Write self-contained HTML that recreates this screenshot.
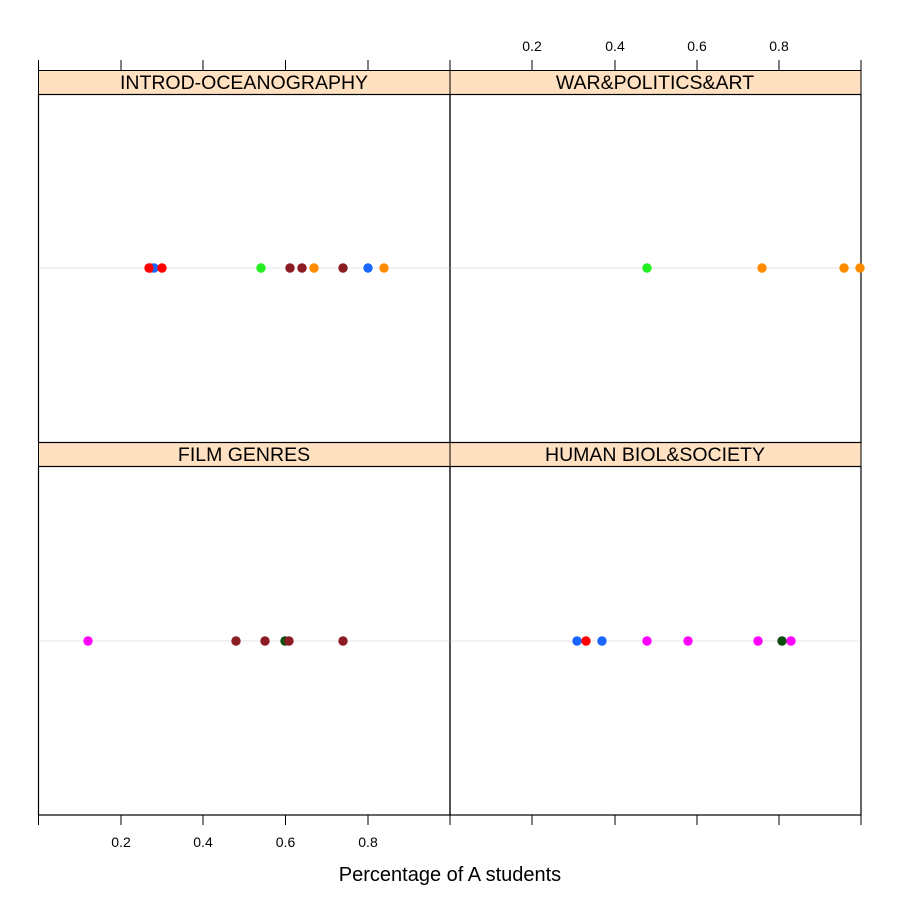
<!DOCTYPE html>
<html><head><style>body{margin:0;background:#fff}</style></head><body>
<svg width="900" height="900" xmlns="http://www.w3.org/2000/svg" font-family="Liberation Sans, Arial, sans-serif">
<rect width="900" height="900" fill="#fff"/>
<rect x="38.5" y="70.5" width="411.5" height="24" fill="#ffe0c1" stroke="#000"/>
<rect x="450" y="70.5" width="411" height="24" fill="#ffe0c1" stroke="#000"/>
<rect x="38.5" y="442.5" width="411.5" height="24" fill="#ffe0c1" stroke="#000"/>
<rect x="450" y="442.5" width="411" height="24" fill="#ffe0c1" stroke="#000"/>
<g font-size="19.5" text-anchor="middle" fill="#000">
<text x="244" y="89">INTROD-OCEANOGRAPHY</text>
<text x="655" y="89">WAR&amp;POLITICS&amp;ART</text>
<text x="244" y="461">FILM GENRES</text>
<text x="655" y="461">HUMAN BIOL&amp;SOCIETY</text>
</g>
<g fill="none" stroke="#000" stroke-width="1.2">
<rect x="38.5" y="94.5" width="411.5" height="348"/>
<rect x="450" y="94.5" width="411" height="348"/>
<rect x="38.5" y="466.5" width="411.5" height="348.5"/>
<rect x="450" y="466.5" width="411" height="348.5"/>
</g>
<g stroke="#e6e6e6" stroke-width="1">
<line x1="39" y1="268" x2="449.5" y2="268"/>
<line x1="450.5" y1="268" x2="860.5" y2="268"/>
<line x1="39" y1="641" x2="449.5" y2="641"/>
<line x1="450.5" y1="641" x2="860.5" y2="641"/>
</g>
<g stroke="#000" stroke-width="1">
<line x1="38.5" y1="60" x2="38.5" y2="70"/><line x1="121" y1="60" x2="121" y2="70"/><line x1="203" y1="60" x2="203" y2="70"/><line x1="285.5" y1="60" x2="285.5" y2="70"/><line x1="368" y1="60" x2="368" y2="70"/><line x1="450" y1="60" x2="450" y2="70"/>
<line x1="532" y1="60" x2="532" y2="70"/><line x1="615" y1="60" x2="615" y2="70"/><line x1="697" y1="60" x2="697" y2="70"/><line x1="779" y1="60" x2="779" y2="70"/><line x1="861" y1="60" x2="861" y2="70"/>
<line x1="38.5" y1="815" x2="38.5" y2="825"/><line x1="121" y1="815" x2="121" y2="825"/><line x1="203" y1="815" x2="203" y2="825"/><line x1="285.5" y1="815" x2="285.5" y2="825"/><line x1="368" y1="815" x2="368" y2="825"/><line x1="450" y1="815" x2="450" y2="825"/>
<line x1="532" y1="815" x2="532" y2="825"/><line x1="615" y1="815" x2="615" y2="825"/><line x1="697" y1="815" x2="697" y2="825"/><line x1="779" y1="815" x2="779" y2="825"/><line x1="861" y1="815" x2="861" y2="825"/>
</g>
<g font-size="14" text-anchor="middle" fill="#000">
<text x="121" y="847">0.2</text><text x="203" y="847">0.4</text><text x="285.5" y="847">0.6</text><text x="368" y="847">0.8</text>
<text x="532" y="51">0.2</text><text x="615" y="51">0.4</text><text x="697" y="51">0.6</text><text x="779" y="51">0.8</text>
</g>
<text x="450" y="881" font-size="20" text-anchor="middle">Percentage of A students</text>
<g>
<circle cx="150" cy="268" r="4.7" fill="#ff0000"/>
<circle cx="154" cy="268" r="4.7" fill="#1a66ff"/>
<circle cx="149" cy="268" r="4.7" fill="#ff0000"/>
<circle cx="162" cy="268" r="4.7" fill="#ff0000"/>
<circle cx="261" cy="268" r="4.7" fill="#22ee22"/>
<circle cx="290" cy="268" r="4.7" fill="#8b1c24"/>
<circle cx="302" cy="268" r="4.7" fill="#8b1c24"/>
<circle cx="314" cy="268" r="4.7" fill="#ff8c00"/>
<circle cx="343" cy="268" r="4.7" fill="#8b1c24"/>
<circle cx="368" cy="268" r="4.7" fill="#1a66ff"/>
<circle cx="384" cy="268" r="4.7" fill="#ff8c00"/>
<circle cx="647" cy="268" r="4.7" fill="#22ee22"/>
<circle cx="762" cy="268" r="4.7" fill="#ff8c00"/>
<circle cx="844" cy="268" r="4.7" fill="#ff8c00"/>
<circle cx="860" cy="268" r="4.7" fill="#ff8c00"/>
<circle cx="88" cy="641" r="4.7" fill="#ff00ff"/>
<circle cx="236" cy="641" r="4.7" fill="#8b1c24"/>
<circle cx="265" cy="641" r="4.7" fill="#8b1c24"/>
<circle cx="285" cy="641" r="4.7" fill="#0d4d0d"/>
<circle cx="289" cy="641" r="4.7" fill="#8b1c24"/>
<circle cx="343" cy="641" r="4.7" fill="#8b1c24"/>
<circle cx="577" cy="641" r="4.7" fill="#1a66ff"/>
<circle cx="586" cy="641" r="4.7" fill="#ff0000"/>
<circle cx="602" cy="641" r="4.7" fill="#1a66ff"/>
<circle cx="647" cy="641" r="4.7" fill="#ff00ff"/>
<circle cx="688" cy="641" r="4.7" fill="#ff00ff"/>
<circle cx="758" cy="641" r="4.7" fill="#ff00ff"/>
<circle cx="782" cy="641" r="4.7" fill="#0d4d0d"/>
<circle cx="791" cy="641" r="4.7" fill="#ff00ff"/>
</g>
</svg>
</body></html>
